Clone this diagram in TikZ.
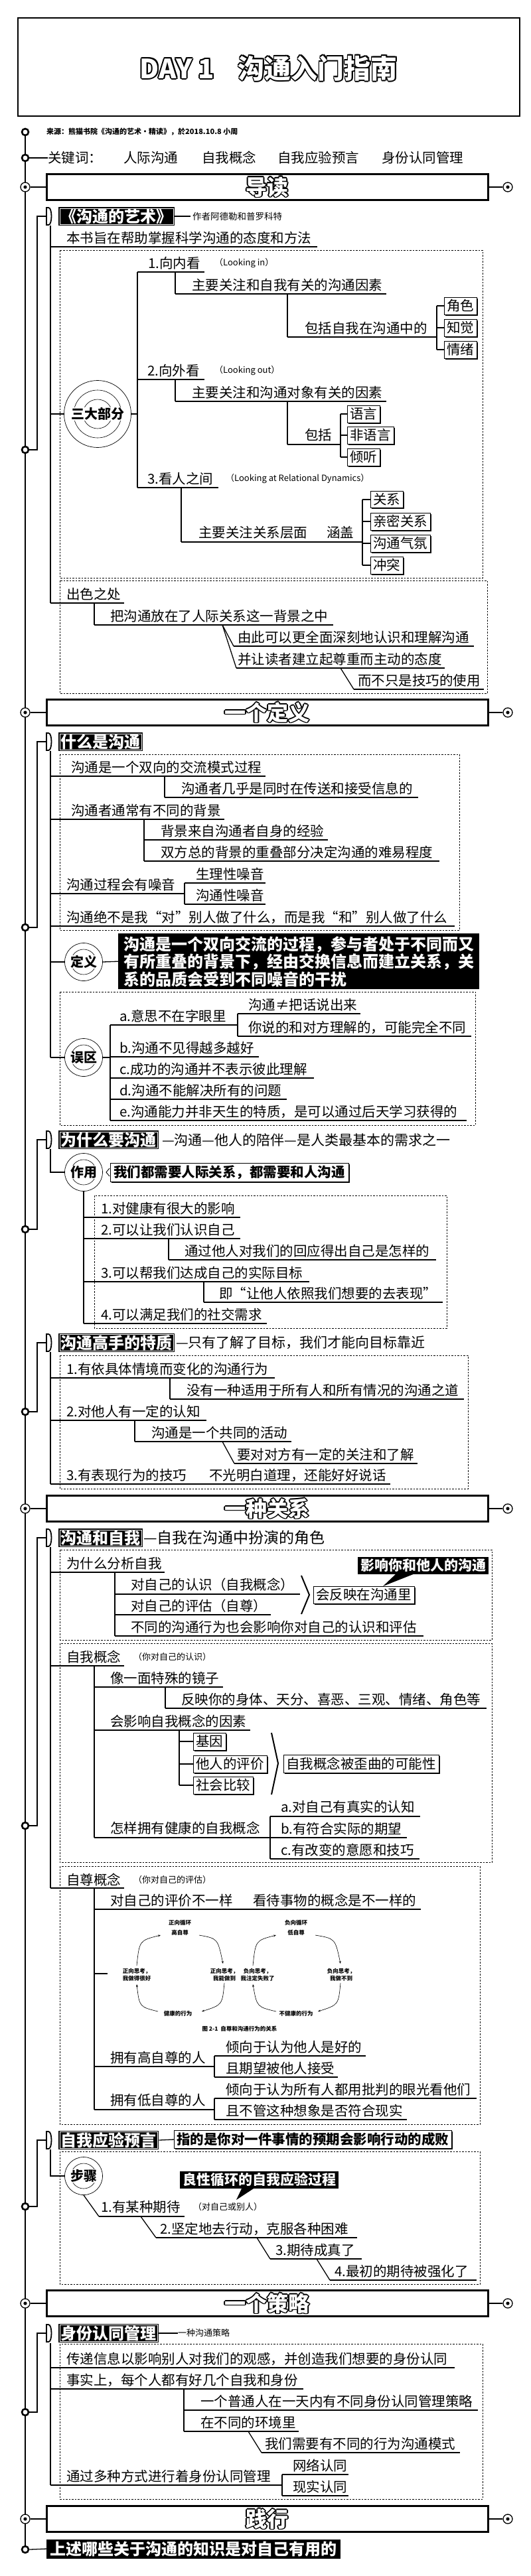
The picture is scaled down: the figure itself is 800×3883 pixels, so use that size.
\documentclass[tikz,border=0pt]{standalone}
\usepackage{fontspec}
\setmainfont{Noto Sans CJK SC}
\usetikzlibrary{shadows,arrows.meta,calc}
\newdimen\hofs
\newcommand\hollow[2]{\hofs=#1\relax
 \setbox0=\hbox{\color{black}#2}\setbox2=\hbox{\color{white}#2}%
 \rlap{\kern\hofs\copy0}\rlap{\kern-\hofs\copy0}%
 \rlap{\raise\hofs\copy0}\rlap{\lower\hofs\copy0}%
 \rlap{\kern0.7\hofs\raise0.7\hofs\copy0}\rlap{\kern-0.7\hofs\raise0.7\hofs\copy0}%
 \rlap{\kern0.7\hofs\lower0.7\hofs\copy0}\rlap{\kern-0.7\hofs\lower0.7\hofs\copy0}%
 \box2}
\tikzset{
 t/.style={anchor=west, inner sep=0pt, font=\fontsize{20.5}{22}\selectfont},
 ts/.style={anchor=west, inner sep=0pt, font=\fontsize{13}{14}\selectfont},
 hw/.style={anchor=west, inner sep=0pt, font=\fontsize{21}{23}\selectfont},
 ul/.style={line width=1.7pt},
 vl/.style={line width=1.3pt},
 mainline/.style={line width=2.3pt},
 dbox/.style={draw, line width=0.7pt, dash pattern=on 2.5pt off 2pt},
 ring/.style={circle, draw, line width=2.6pt, fill=white, minimum size=10pt, inner sep=0pt},
 target/.style={circle, draw, line width=1.3pt, fill=white, minimum size=14pt, inner sep=0pt},
 secbox/.style={draw, line width=3pt, minimum width=665pt, minimum height=39pt, inner sep=0pt},
 hdr/.style={fill=black, text=white, anchor=west, inner xsep=3.5pt, inner ysep=2.5pt, font=\bfseries\fontsize{24}{26}\selectfont},
 sbox/.style={draw, line width=0.8pt, fill=white, anchor=west, inner xsep=4pt, inner ysep=3.5pt, font=\fontsize{20.5}{22}\selectfont, drop shadow={shadow xshift=1.6pt, shadow yshift=-1.6pt, opacity=1, fill=black}},
 callout/.style={fill=black, text=white, anchor=west, inner xsep=4pt, inner ysep=3pt, font=\bfseries\fontsize{21}{23}\selectfont},
 fig/.style={inner sep=0pt, align=center, font=\bfseries\fontsize{8.5}{11}\selectfont},
 farr/.style={line width=0.6pt, -{Stealth[length=4pt]}}
}
\newcommand\dhead[4]{%
 \node[hdr] (#1) at (88,#2) {#3};
 \draw[white, line width=0.7pt] ([shift={(2,2)}]#1.north west) rectangle ([shift={(-2,-2)}]#1.south east);
 \draw[line width=1.8pt, fill=white] (70,#2-13) -- (73,#2-13) .. controls (79,#2-13) and (79,#2+13) .. (73,#2+13) -- (70,#2+13) -- cycle;
 \node[ring] (#1r) at (38,#4) {};
 \draw[vl] (#1r.east) -- (56,#4) -- (56,#2) -- (70,#2);
}
\newcommand\sect[3]{%
 \node[secbox] (#1) at (402.5,#2) {};
 \node (#1t) at (402.5,#2) {\hollow{1.6pt}{\bfseries\fontsize{32}{34}\selectfont #3}};
 \node[target] (#1l) at (38,#2) {}; \fill (#1l.center) circle[radius=2.6pt];
 \node[target] (#1r) at (765,#2) {}; \fill (#1r.center) circle[radius=2.6pt];
 \draw[vl] (#1l) -- (#1.west); \draw[vl] (#1.east) -- (#1r);
}
\newcommand\ccirc[4]{%
 \node[circle, draw, line width=0.7pt, minimum size=57pt, inner sep=0pt, fill=white] (#1) at (#2,#3) {};
 \draw[line width=0.6pt] (#1.center) circle[radius=19pt];
 \node[fill=white, inner sep=0.5pt, font=\bfseries\fontsize{20}{22}\selectfont] (#1t) at (#2,#3) {#4};
}
\begin{document}
\begin{tikzpicture}[x=1pt,y=-1pt]
\fill[white] (0,0) rectangle (800,3883);
\useasboundingbox (0,0) rectangle (800,3883);

% title
\node[draw, line width=2.8pt, minimum width=756pt, minimum height=148pt, inner sep=0pt] (title) at (405,101) {};
\node (titlet) at (405,103) {\hollow{2pt}{\bfseries\fontsize{40}{44}\selectfont DAY 1\hspace{0.9em}沟通入门指南}};

% main line
\draw[mainline] (38,199) -- (38,3843);

% source & keywords
\node[ring] (r0) at (38,199) {};
\node[anchor=west, inner sep=0pt, font=\bfseries\fontsize{11}{12}\selectfont] (src) at (70,199) {来源：熊猫书院《沟通的艺术·精读》，於2018.10.8 小周};
\node[ring] (r1) at (38,238) {};
\node[t] (kw) at (72,238) {关键词：};
\draw[vl] (r1.east) -- (kw.west);
\node[t] (kw1) at (186,238) {人际沟通};
\node[t] (kw2) at (304,238) {自我概念};
\node[t] (kw3) at (418,238) {自我应验预言};
\node[t] (kw4) at (575,238) {身份认同管理};

% ===== 导读
\sect{s1}{282}{导读}

\dhead{g1}{326}{《沟通的艺术》}{678}
\draw[vl] (g1.east) -- (287,326);
\node[anchor=west, inner sep=0pt, font=\fontsize{13.5}{15}\selectfont] (g1n) at (290,326) {作者阿德勒和普罗科特};
\draw[vl] (76,340) -- (76,909);
\node[t] (b0) at (100,359) {本书旨在帮助掌握科学沟通的态度和方法};
\draw[ul] (76,372) -- (478,372);
\draw[dbox] (90,377) rectangle (727,871);
\node[circle, draw, line width=0.7pt, minimum size=101pt, inner sep=0pt] (sd) at (147,624) {};
\draw[line width=0.6pt] (sd.center) circle[radius=36pt];
\draw[line width=0.6pt] (sd.center) circle[radius=22pt];
\node[fill=white, inner sep=0.5pt, font=\bfseries\fontsize{20}{22}\selectfont] (sdt) at (147,624) {三大部分};
\draw[vl] (76,624) -- (sd.west);
\draw[vl] (sd.east) -- (207,624);
\draw[vl] (207,410) -- (207,735);
% 1
\node[t] (p1) at (223,397) {1.向内看};
\node[ts] (p1e) at (323,397) {（Looking in）};
\draw[ul] (207,410) -- (308,410);
\draw[vl] (264,410) -- (264,443);
\node[t] (p1a) at (289,430) {主要关注和自我有关的沟通因素};
\draw[ul] (264,443) -- (582,443);
\draw[vl] (433,443) -- (433,508);
\node[t] (p1b) at (459,495) {包括自我在沟通中的};
\draw[ul] (433,508) -- (658,508);
\draw[vl] (658,461) -- (658,527);
\node[sbox] (k1) at (669,461) {角色};
\node[sbox] (k2) at (669,494) {知觉};
\node[sbox] (k3) at (669,527) {情绪};
\draw[vl] (658,461) -- (k1.west); \draw[vl] (658,494) -- (k2.west); \draw[vl] (658,527) -- (k3.west);
% 2
\node[t] (p2) at (222,559) {2.向外看};
\node[ts] (p2e) at (323,559) {（Looking out）};
\draw[ul] (207,572) -- (308,572);
\draw[vl] (264,572) -- (264,605);
\node[t] (p2a) at (289,592) {主要关注和沟通对象有关的因素};
\draw[ul] (264,605) -- (582,605);
\draw[vl] (433,605) -- (433,670);
\node[t] (p2b) at (459,656) {包括};
\draw[ul] (433,670) -- (513,670);
\draw[vl] (513,624) -- (513,689);
\node[sbox] (m1) at (523,624) {语言};
\node[sbox] (m2) at (523,656) {非语言};
\node[sbox] (m3) at (523,689) {倾听};
\draw[vl] (513,624) -- (m1.west); \draw[vl] (513,656) -- (m2.west); \draw[vl] (513,689) -- (m3.west);
% 3
\node[t] (p3) at (222,722) {3.看人之间};
\node[ts] (p3e) at (340,722) {（Looking at Relational Dynamics）};
\draw[ul] (207,735) -- (329,735);
\draw[vl] (273,735) -- (273,817);
\node[t] (p3a) at (299,803) {主要关注关系层面};
\node[t] (p3b) at (492,803) {涵盖};
\draw[ul] (273,817) -- (546,817);
\draw[vl] (546,753) -- (546,852);
\node[sbox] (n1) at (558,753) {关系};
\node[sbox] (n2) at (558,786) {亲密关系};
\node[sbox] (n3) at (558,819) {沟通气氛};
\node[sbox] (n4) at (558,852) {冲突};
\draw[vl] (546,753) -- (n1.west); \draw[vl] (546,786) -- (n2.west); \draw[vl] (546,819) -- (n3.west); \draw[vl] (546,852) -- (n4.west);
% 出色之处
\draw[dbox] (90,875) rectangle (734,1045);
\node[t] (q0) at (100,896) {出色之处};
\draw[ul] (76,909) -- (187,909);
\draw[vl] (142,909) -- (142,942);
\node[t] (q1) at (166,929) {把沟通放在了人际关系这一背景之中};
\draw[ul] (142,942) -- (502,942);
\draw[vl] (335,942) -- (352,974);
\draw[vl] (335,942) -- (356,1007);
\node[t] (q2) at (358,961) {由此可以更全面深刻地认识和理解沟通};
\draw[ul] (352,974) -- (714,974);
\node[t] (q3) at (358,994) {并让读者建立起尊重而主动的态度};
\draw[ul] (356,1007) -- (670,1007);
\draw[vl] (513,1007) -- (533,1039);
\node[t] (q4) at (539,1026) {而不只是技巧的使用};
\draw[ul] (533,1039) -- (729,1039);

% ===== 一个定义
\sect{s2}{1074}{一个定义}
\dhead{g2}{1118}{什么是沟通}{1398}
\draw[vl] (76,1132) -- (76,1594);
\draw[dbox] (90,1137) rectangle (692,1402);
\node[t] (a1) at (107,1157) {沟通是一个双向的交流模式过程};
\draw[ul] (76,1170) -- (400,1170);
\draw[vl] (248,1170) -- (248,1202);
\node[t] (a2) at (273,1189) {沟通者几乎是同时在传送和接受信息的};
\draw[ul] (248,1202) -- (630,1202);
\node[t] (a3) at (107,1222) {沟通者通常有不同的背景};
\draw[ul] (76,1235) -- (338,1235);
\draw[vl] (217,1235) -- (217,1298);
\node[t] (a4) at (242,1253) {背景来自沟通者自身的经验};
\draw[ul] (217,1266) -- (494,1266);
\node[t] (a5) at (242,1285) {双方总的背景的重叠部分决定沟通的难易程度};
\draw[ul] (217,1298) -- (662,1298);
\node[t] (a6) at (100,1334) {沟通过程会有噪音};
\draw[ul] (76,1347) -- (278,1347);
\draw[vl] (278,1331) -- (278,1363);
\node[t] (a7) at (295,1318) {生理性噪音};
\draw[ul] (278,1331) -- (400,1331);
\node[t] (a8) at (295,1350) {沟通性噪音};
\draw[ul] (278,1363) -- (400,1363);
\node[t] (a9) at (100,1383) {沟通绝不是我“对”别人做了什么，而是我“和”别人做了什么};
\draw[ul] (76,1396) -- (685,1396);
% 定义
\ccirc{dy}{126}{1450}{定义}
\node[fill=black, text=white, anchor=north west, align=left, minimum width=544pt, minimum height=84pt, inner xsep=6pt, inner ysep=3pt, font=\bfseries\fontsize{24}{26.5}\selectfont] (dfn) at (178,1407) {沟通是一个双向交流的过程，参与者处于不同而又\\有所重叠的背景下，经由交换信息而建立关系，关\\系的品质会受到不同噪音的干扰};
\draw[vl] (76,1450) -- (dy.west);
\draw[vl] (dy.east) -- (dfn.west);
% 误区
\draw[dbox] (90,1495) rectangle (716,1696);
\ccirc{wq}{126}{1594}{误区}
\draw[vl] (76,1594) -- (wq.west);
\draw[vl] (wq.east) -- (166,1594);
\draw[vl] (166,1545) -- (166,1689);
\node[t] (w1) at (180,1532) {a.意思不在字眼里};
\draw[ul] (166,1545) -- (358,1545);
\draw[vl] (358,1528) -- (358,1562);
\node[t] (w1a) at (374,1515) {沟通≠把话说出来};
\draw[ul] (358,1528) -- (543,1528);
\node[t] (w1b) at (374,1549) {你说的和对方理解的，可能完全不同};
\draw[ul] (358,1562) -- (710,1562);
\node[t] (w2) at (180,1580) {b.沟通不见得越多越好};
\draw[ul] (166,1593) -- (390,1593);
\node[t] (w3) at (180,1612) {c.成功的沟通并不表示彼此理解};
\draw[ul] (166,1625) -- (473,1625);
\node[t] (w4) at (180,1644) {d.沟通不能解决所有的问题};
\draw[ul] (166,1657) -- (432,1657);
\node[t] (w5) at (180,1676) {e.沟通能力并非天生的特质，是可以通过后天学习获得的};
\draw[ul] (166,1689) -- (703,1689);

% 为什么要沟通
\dhead{g3}{1718}{为什么要沟通}{1853}
\node[hw] (g3n) at (244,1718) {—沟通—他人的陪伴—是人类最基本的需求之一};
\ccirc{zy}{126}{1767}{作用}
\draw[vl] (76,1732) -- (76,1767) -- (zy.west);
\node[sbox, font=\bfseries\fontsize{20.5}{22}\selectfont, inner xsep=5pt] (zyb) at (166,1767) {我们都需要人际关系，都需要和人沟通};
\draw[line width=0.9pt] ([shift={(-1,-6)}]zyb.west) -- ([shift={(-6,0)}]zyb.west) -- ([shift={(-1,6)}]zyb.west);
\draw[vl] (zy.south) -- (126,1995);
\draw[dbox] (142,1802) rectangle (673,2002);
\node[t] (c1) at (152,1822) {1.对健康有很大的影响};
\draw[ul] (126,1835) -- (362,1835);
\node[t] (c2) at (152,1854) {2.可以让我们认识自己};
\draw[ul] (126,1867) -- (362,1867);
\draw[vl] (254,1867) -- (254,1899);
\node[t] (c2a) at (278,1886) {通过他人对我们的回应得出自己是怎样的};
\draw[ul] (254,1899) -- (657,1899);
\node[t] (c3) at (152,1919) {3.可以帮我们达成自己的实际目标};
\draw[ul] (126,1932) -- (466,1932);
\draw[vl] (307,1932) -- (307,1963);
\node[t] (c3a) at (330,1950) {即“让他人依照我们想要的去表现”};
\draw[ul] (307,1963) -- (667,1963);
\node[t] (c4) at (152,1982) {4.可以满足我们的社交需求};
\draw[ul] (126,1995) -- (402,1995);

% 沟通高手的特质
\dhead{g4}{2024}{沟通高手的特质}{2128}
\node[hw] (g4n) at (265,2024) {—只有了解了目标，我们才能向目标靠近};
\draw[vl] (76,2038) -- (76,2237);
\draw[dbox] (90,2043) rectangle (705,2244);
\node[t] (d1) at (100,2064) {1.有依具体情境而变化的沟通行为};
\draw[ul] (76,2077) -- (414,2077);
\draw[vl] (256,2077) -- (256,2109);
\node[t] (d1a) at (281,2096) {没有一种适用于所有人和所有情况的沟通之道};
\draw[ul] (256,2109) -- (699,2109);
\node[t] (d2) at (100,2128) {2.对他人有一定的认知};
\draw[ul] (76,2141) -- (311,2141);
\draw[vl] (203,2141) -- (203,2173);
\node[t] (d2a) at (228,2160) {沟通是一个共同的活动};
\draw[ul] (203,2173) -- (439,2173);
\draw[vl] (335,2173) -- (353,2206);
\node[t] (d2b) at (357,2193) {要对对方有一定的关注和了解};
\draw[ul] (353,2206) -- (629,2206);
\node[t] (d3) at (100,2224) {3.有表现行为的技巧};
\node[t] (d3b) at (315,2224) {不光明白道理，还能好好说话};
\draw[ul] (76,2237) -- (588,2237);

% ===== 一种关系
\sect{s3}{2274}{一种关系}
\dhead{g5}{2318}{沟通和自我}{2752}
\node[hw, font=\fontsize{23}{25}\selectfont] (g5n) at (216,2318) {—自我在沟通中扮演的角色};
\draw[vl] (76,2332) -- (76,2846);
\draw[dbox] (90,2336) rectangle (741,2472);
\node[t] (e0) at (100,2357) {为什么分析自我};
\draw[ul] (76,2370) -- (248,2370);
\draw[vl] (173,2370) -- (173,2466);
\node[t] (e1) at (197,2389) {对自己的认识（自我概念）};
\draw[ul] (173,2403) -- (452,2403);
\node[t] (e2) at (197,2421) {对自己的评估（自尊）};
\draw[ul] (173,2434) -- (408,2434);
\node[t] (e3) at (197,2453) {不同的沟通行为也会影响你对自己的认识和评估};
\draw[ul] (173,2466) -- (638,2466);
\draw[line width=2pt] (454,2375) -- (466,2404) -- (454,2433);
\node[sbox] (e4) at (472,2404) {会反映在沟通里};
\node[callout] (e5) at (539,2360) {影响你和他人的沟通};
\fill (597,2372) -- (577,2391) -- (625,2372) -- cycle;

\draw[dbox] (90,2477) rectangle (741,2807);
\node[t] (f0) at (100,2498) {自我概念};
\node[ts] (f0s) at (201,2498) {（你对自己的认识）};
\draw[ul] (76,2511) -- (187,2511);
\draw[vl] (142,2511) -- (142,2770);
\node[t] (f1) at (166,2530) {像一面特殊的镜子};
\draw[ul] (142,2543) -- (336,2543);
\draw[vl] (249,2543) -- (249,2575);
\node[t] (f1a) at (273,2562) {反映你的身体、天分、喜恶、三观、情绪、角色等};
\draw[ul] (249,2575) -- (733,2575);
\node[t] (f2) at (166,2595) {会影响自我概念的因素};
\draw[ul] (142,2608) -- (377,2608);
\draw[vl] (270,2608) -- (270,2691);
\node[sbox] (h1) at (291,2625) {基因};
\node[sbox] (h2) at (291,2659) {他人的评价};
\node[sbox] (h3) at (291,2691) {社会比较};
\draw[vl] (270,2625) -- (h1.west); \draw[vl] (270,2659) -- (h2.west); \draw[vl] (270,2691) -- (h3.west);
\draw[line width=2pt] (409,2612) -- (419,2658) -- (409,2705);
\node[sbox] (f3) at (427,2659) {自我概念被歪曲的可能性};
\node[t] (f4) at (166,2756) {怎样拥有健康的自我概念};
\draw[ul] (142,2770) -- (407,2770);
\draw[vl] (407,2738) -- (407,2802);
\node[t] (f5) at (423,2724) {a.对自己有真实的认知};
\draw[ul] (407,2738) -- (633,2738);
\node[t] (f6) at (423,2757) {b.有符合实际的期望};
\draw[ul] (407,2770) -- (613,2770);
\node[t] (f7) at (423,2789) {c.有改变的意愿和技巧};
\draw[ul] (407,2802) -- (632,2802);

\draw[dbox] (90,2813) rectangle (723,3202);
\node[t] (s0) at (100,2834) {自尊概念};
\node[ts] (s0s) at (201,2834) {（你对自己的评估）};
\draw[ul] (76,2846) -- (187,2846);
\draw[vl] (142,2846) -- (142,3180);
\node[t] (s1a) at (166,2865) {对自己的评价不一样};
\node[t] (s1b) at (381,2865) {看待事物的概念是不一样的};
\draw[ul] (142,2878) -- (634,2878);
\draw[vl] (142,2975) -- (162,2975);
% figure
\node[fig] (fa1) at (271,2898) {正向循环};
\node[fig] (fa2) at (271,2913) {高自尊};
\node[fig] (fa3) at (206,2977) {正向思考，\\我做得很好};
\node[fig] (fa4) at (338,2977) {正向思考，\\我能做到};
\node[fig] (fa5) at (268,3035) {健康的行为};
\draw[farr] (300,2917) .. controls (328,2922) .. (336,2960);
\draw[farr] (338,2989) .. controls (335,3022) .. (304,3032);
\draw[farr] (238,3032) .. controls (210,3025) .. (206,2991);
\draw[farr] (206,2963) .. controls (210,2925) .. (242,2917);
\node[fig] (fb1) at (446,2898) {负向循环};
\node[fig] (fb2) at (446,2913) {低自尊};
\node[fig] (fb3) at (388,2977) {负向思考，\\我注定失败了};
\node[fig] (fb4) at (514,2977) {负向思考，\\我做不到};
\node[fig] (fb5) at (446,3035) {不健康的行为};
\draw[farr] (475,2917) .. controls (505,2922) .. (513,2960);
\draw[farr] (513,2989) .. controls (510,3022) .. (479,3032);
\draw[farr] (416,3032) .. controls (387,3025) .. (381,2991);
\draw[farr] (381,2963) .. controls (385,2925) .. (416,2917);
\node[fig] (fcap) at (361,3058) {图 2-1\ \ 自尊和沟通行为的关系};
\node[t] (s2a) at (166,3102) {拥有高自尊的人};
\draw[ul] (142,3115) -- (323,3115);
\draw[vl] (323,3099) -- (323,3131);
\node[t] (s2b) at (340,3086) {倾向于认为他人是好的};
\draw[ul] (323,3099) -- (551,3099);
\node[t] (s2c) at (340,3118) {且期望被他人接受};
\draw[ul] (323,3131) -- (509,3131);
\node[t] (s3a) at (166,3166) {拥有低自尊的人};
\draw[ul] (142,3180) -- (323,3180);
\draw[vl] (323,3163) -- (323,3195);
\node[t] (s3b) at (340,3150) {倾向于认为所有人都用批判的眼光看他们};
\draw[ul] (323,3163) -- (718,3163);
\node[t] (s3c) at (340,3182) {且不管这种想象是否符合现实};
\draw[ul] (323,3195) -- (613,3195);

% 自我应验预言
\dhead{g6}{3226}{自我应验预言}{3326}
\node[sbox, font=\bfseries\fontsize{20.5}{22}\selectfont] (g6d) at (262,3225) {指的是你对一件事情的预期会影响行动的成败};
\draw[vl] (g6.east) -- (g6d.west);
\draw[dbox] (90,3243) rectangle (723,3443);
\ccirc{bz}{126}{3280}{步骤}
\draw[vl] (76,3240) -- (76,3280) -- (bz.west);
\node[callout] (bzc) at (271,3286) {良性循环的自我应验过程};
\fill (365,3297) -- (356,3316) -- (385,3297) -- cycle;
\draw[vl] (bz.south) -- (149,3341);
\node[t] (j1) at (152,3327) {1.有某种期待};
\node[ts] (j1s) at (291,3327) {（对自己或别人）};
\draw[ul] (149,3341) -- (278,3341);
\draw[vl] (212,3341) -- (235,3373);
\node[t] (j2) at (241,3360) {2.坚定地去行动，克服各种困难};
\draw[ul] (235,3373) -- (538,3373);
\draw[vl] (387,3373) -- (407,3405);
\node[t] (j3) at (415,3392) {3.期待成真了};
\draw[ul] (407,3405) -- (545,3405);
\draw[vl] (477,3405) -- (497,3437);
\node[t] (j4) at (504,3424) {4.最初的期待被强化了};
\draw[ul] (497,3437) -- (718,3437);

% ===== 一个策略
\sect{s4}{3472}{一个策略}
\dhead{g7}{3517}{身份认同管理}{3636}
\node[anchor=west, inner sep=0pt, font=\fontsize{13}{14}\selectfont] (g7n) at (268,3517) {一种沟通策略};
\draw[vl] (g7.east) -- (g7n.west);
\draw[vl] (76,3532) -- (76,3746);
\draw[dbox] (90,3533) rectangle (727,3767);
\node[t] (i1) at (100,3556) {传递信息以影响别人对我们的观感，并创造我们想要的身份认同};
\draw[ul] (76,3569) -- (685,3569);
\node[t] (i2) at (100,3588) {事实上，每个人都有好几个自我和身份};
\draw[ul] (76,3601) -- (457,3601);
\draw[vl] (277,3601) -- (277,3665);
\node[t] (i3) at (302,3620) {一个普通人在一天内有不同身份认同管理策略};
\draw[ul] (277,3633) -- (720,3633);
\node[t] (i4) at (302,3652) {在不同的环境里};
\draw[ul] (277,3665) -- (450,3665);
\draw[vl] (374,3665) -- (394,3697);
\node[t] (i5) at (399,3684) {我们需要有不同的行为沟通模式};
\draw[ul] (394,3697) -- (693,3697);
\node[t] (i6) at (100,3733) {通过多种方式进行着身份认同管理};
\draw[ul] (76,3746) -- (425,3746);
\draw[vl] (425,3730) -- (425,3762);
\node[t] (i7) at (441,3717) {网络认同};
\draw[ul] (425,3730) -- (525,3730);
\node[t] (i8) at (441,3749) {现实认同};
\draw[ul] (425,3762) -- (525,3762);

% ===== 践行
\sect{s5}{3797}{践行}
\node[ring] (rf) at (38,3843) {};
\node[fill=black, text=white, anchor=west, inner xsep=5.5pt, inner ysep=3pt, font=\bfseries\fontsize{24}{26}\selectfont] (fin) at (70,3842) {上述哪些关于沟通的知识是对自己有用的};
\draw[vl] (rf.east) -- (fin.west);
\end{tikzpicture}
\end{document}
